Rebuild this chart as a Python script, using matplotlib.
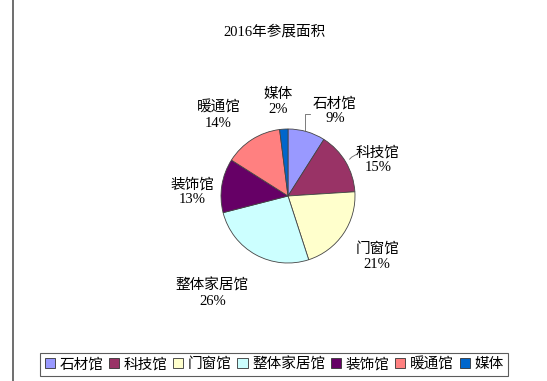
import matplotlib.pyplot as plt
from matplotlib.lines import Line2D

# data
names = ['石材馆', '科技馆', '门窗馆', '整体家居馆', '装饰馆', '暖通馆', '媒体']
shares = [9, 15, 21, 26, 13, 14, 2]
colors = ['#9999FF', '#993366', '#FFFFCC', '#CCFFFF', '#660066', '#FF8080', '#0066CC']
title = '2016年参展面积'

# label placement (in pie radius units)
label_xy = [(0.70, 1.27), (1.34, 0.54), (1.33, -0.91), (-1.13, -1.45),
            (-1.43, 0.06), (-1.04, 1.21), (-0.15, 1.40)]

fonts = ['Liberation Serif', 'Noto Sans CJK SC']
plt.rcParams['font.family'] = fonts

W, H = 547, 381
fig = plt.figure(figsize=(W / 100, H / 100), dpi=100)

cx, cy, r = 288, 196, 67
ax = fig.add_axes([(cx - r) / W, (H - cy - r) / H, 2 * r / W, 2 * r / H])
wedges, _ = ax.pie(shares, colors=colors, startangle=90, counterclock=False,
                   radius=1, wedgeprops=dict(edgecolor='#444444', linewidth=0.6))
ax.set_xlim(-1, 1)
ax.set_ylim(-1, 1)
ax.set_aspect('equal')
ax.axis('off')

for name, v, (lx, ly) in zip(names, shares, label_xy):
    ax.text(lx, ly, f'{name}\n{v}%', ha='center', va='center', fontsize=10.5,
            linespacing=1.2, clip_on=False, color='black')

# leader lines for the two labels on the upper right
ax.plot([0.25, 0.25, 0.33], [0.97, 1.22, 1.22], color='#666666', lw=0.6, clip_on=False)
ax.plot([0.92, 0.95, 1.02], [0.55, 0.58, 0.62], color='#666666', lw=0.6, clip_on=False)

fig.text(275 / W, 1 - 32 / H, title, ha='center', va='center', fontsize=10.5,
         color='black')

handles = [plt.Rectangle((0, 0), 1, 1, facecolor=c, edgecolor='#333333', linewidth=0.6)
           for c in colors]
leg = fig.legend(handles, names, loc='center', bbox_to_anchor=(274 / W, 1 - 364 / H),
                 ncol=7, frameon=True, fancybox=False,
                 prop=dict(family=fonts, size=10.5),
                 handlelength=0.7, handleheight=0.7, handletextpad=0.3,
                 columnspacing=0.4, borderpad=0.3, borderaxespad=0)
leg.get_frame().set_edgecolor('#333333')
leg.get_frame().set_linewidth(0.8)

fig.add_artist(Line2D([13 / W, 13 / W], [0, 1], color='#555555', lw=1.2))

fig.savefig('out.png', dpi=100)
